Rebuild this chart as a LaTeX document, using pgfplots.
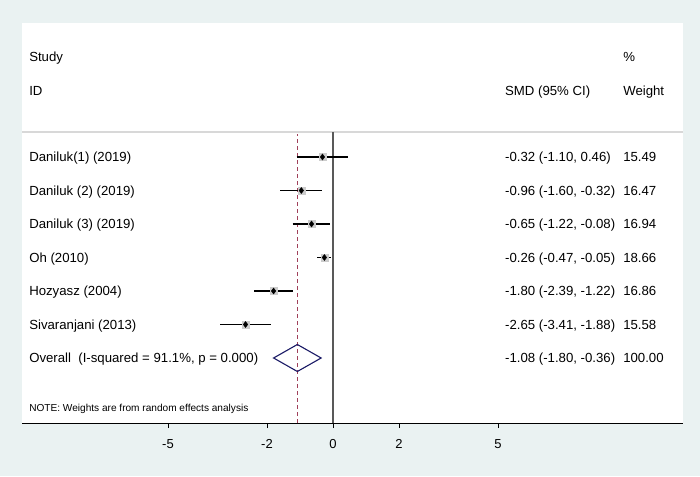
\documentclass[border=0pt]{standalone}
\usepackage{fontspec}
\setmainfont{Liberation Sans}
\usepackage{pgfplots}
\pgfplotsset{compat=1.18}
\definecolor{bgc}{HTML}{EAF2F2}
\definecolor{navyd}{HTML}{1A1A66}
\definecolor{refl}{HTML}{A0405A}
\definecolor{sepc}{HTML}{D8D8D8}
\begin{document}
\begin{tikzpicture}
\fill[bgc] (0,0) rectangle (700pt,476pt);
\begin{axis}[
  at={(22pt,53pt)}, anchor=south west,
  scale only axis, width=661pt, height=400pt,
  xmin=-9.4242, xmax=10.606, ymin=0, ymax=400,
  axis background/.style={fill=white},
  hide y axis,
  axis x line*=bottom,
  x axis line style={-, line width=1pt, black},
  xtick={-5,-2,0,2,5},
  xticklabels={-5,-2,0,2,5},
  xtick pos=bottom,
  tick align=outside, major tick length=5pt,
  major tick style={line width=0.9pt, black},
  ticklabel style={font=\fontsize{13}{15}\selectfont},
  xticklabel style={yshift=-8pt},
  clip=false,
]
% separator
\addplot[sepc, line width=1.5pt] coordinates {(-9.4242,291) (10.606,291)};
% zero line
\addplot[black!65, line width=1.2pt] coordinates {(0,0) (0,291)};
% overall reference line
\addplot[refl, line width=1pt, dash pattern=on 4pt off 3pt] coordinates {(-1.08,0) (-1.08,289)};
% tick marks
\draw[black, line width=0.9pt] (axis cs:-5,0) -- (axis cs:-5,-5);
\draw[black, line width=0.9pt] (axis cs:-2,0) -- (axis cs:-2,-5);
\draw[black, line width=0.9pt] (axis cs:0,0) -- (axis cs:0,-5);
\draw[black, line width=0.9pt] (axis cs:2,0) -- (axis cs:2,-5);
\draw[black, line width=0.9pt] (axis cs:5,0) -- (axis cs:5,-5);
% CIs
\addplot[black, line width=1.3pt] coordinates {(-1.10,266) (0.46,266)};
\addplot[black, line width=1.3pt] coordinates {(-1.60,232.5) (-0.32,232.5)};
\addplot[black, line width=1.3pt] coordinates {(-1.22,199) (-0.08,199)};
\addplot[black, line width=1.3pt] coordinates {(-0.47,165.5) (-0.05,165.5)};
\addplot[black, line width=1.3pt] coordinates {(-2.39,132) (-1.22,132)};
\addplot[black, line width=1.3pt] coordinates {(-3.41,98.5) (-1.88,98.5)};
% weight boxes
\addplot[only marks, mark=square*, mark size=3.6pt, black!20, mark options={draw=black!20, fill=black!20}] coordinates {
(-0.32,266) (-0.96,232.5) (-0.65,199) (-0.26,165.5) (-1.80,132) (-2.65,98.5)};
% point estimates
\addplot[only marks, mark=diamond*, mark size=3pt, black] coordinates {
(-0.32,266) (-0.96,232.5) (-0.65,199) (-0.26,165.5) (-1.80,132) (-2.65,98.5)};
% overall diamond
\addplot[navyd, line width=1.1pt, line join=miter] coordinates {(-1.80,65) (-1.08,78.5) (-0.36,65) (-1.08,51.5) (-1.80,65) (-1.08,78.5)};
% text
\begin{scope}[every node/.style={font=\fontsize{13.2}{15}\selectfont, anchor=base west, inner sep=0pt, yshift=-4.7pt}]
\node at (axis cs:-9.21,366) {Study};
\node at (axis cs:-9.21,332) {ID};
\node at (axis cs:8.79,366) {\%};
\node at (axis cs:5.21,332) {SMD (95\% CI)};
\node at (axis cs:8.79,332) {Weight};
\node at (axis cs:-9.21,266) {Daniluk(1) (2019)};
\node at (axis cs:-9.21,232.5) {Daniluk (2) (2019)};
\node at (axis cs:-9.21,199) {Daniluk (3) (2019)};
\node at (axis cs:-9.21,165.5) {Oh (2010)};
\node at (axis cs:-9.21,132) {Hozyasz (2004)};
\node at (axis cs:-9.21,98.5) {Sivaranjani (2013)};
\node at (axis cs:-9.21,65) {Overall\ \ (I-squared = 91.1\%, p = 0.000)};
\node at (axis cs:5.21,266) {-0.32 (-1.10, 0.46)};
\node at (axis cs:5.21,232.5) {-0.96 (-1.60, -0.32)};
\node at (axis cs:5.21,199) {-0.65 (-1.22, -0.08)};
\node at (axis cs:5.21,165.5) {-0.26 (-0.47, -0.05)};
\node at (axis cs:5.21,132) {-1.80 (-2.39, -1.22)};
\node at (axis cs:5.21,98.5) {-2.65 (-3.41, -1.88)};
\node at (axis cs:5.21,65) {-1.08 (-1.80, -0.36)};
\node at (axis cs:8.79,266) {15.49};
\node at (axis cs:8.79,232.5) {16.47};
\node at (axis cs:8.79,199) {16.94};
\node at (axis cs:8.79,165.5) {18.66};
\node at (axis cs:8.79,132) {16.86};
\node at (axis cs:8.79,98.5) {15.58};
\node at (axis cs:8.79,65) {100.00};
\node[font=\fontsize{10.1}{12}\selectfont, yshift=0.9pt] at (axis cs:-9.21,15) {NOTE: Weights are from random effects analysis};
\end{scope}
\end{axis}
\end{tikzpicture}
\end{document}
